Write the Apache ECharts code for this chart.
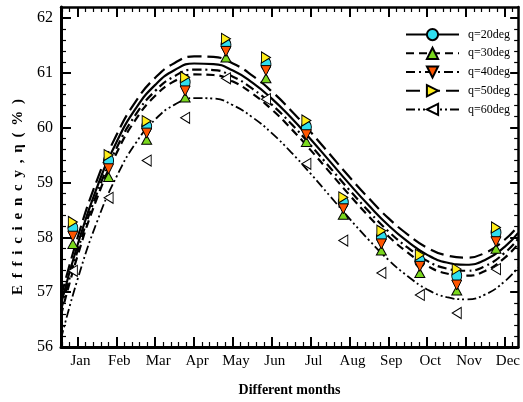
<!DOCTYPE html>
<html>
<head>
<meta charset="utf-8">
<script src="https://cdn.jsdelivr.net/npm/echarts@6/dist/echarts.min.js"></script>
<style>
html, body { margin: 0; padding: 0; background: #fff; }
#chart { width: 523px; height: 402px; }
</style>
</head>
<body>
<div id="chart"></div>
<script>
// months on the x axis (Jan = 1)
const monthNames = ['Jan', 'Feb', 'Mar', 'Apr', 'May', 'Jun', 'Jul', 'Aug', 'Sep', 'Oct', 'Nov', 'Dec'];
const monthTicks = [1, 2, 3, 4, 5, 6, 7, 8, 9, 10, 11, 12];
const yTicks = [56, 57, 58, 59, 60, 61, 62];

// measured points, one group per month
const markerX = [0.88, 1.80, 2.78, 3.77, 4.82, 5.85, 6.89, 7.84, 8.82, 9.81, 10.76, 11.77];
const pts20 = [58.17, 59.40, 60.02, 60.83, 61.51, 61.16, 60.01, 58.64, 58.00, 57.57, 57.30, 58.09];
const pts30 = [57.88, 59.10, 59.78, 60.55, 61.28, 60.90, 59.74, 58.41, 57.76, 57.35, 57.03, 57.79];
const pts40 = [58.02, 59.25, 59.90, 60.67, 61.39, 61.04, 59.87, 58.52, 57.88, 57.47, 57.13, 57.92];
const pts50 = [58.28, 59.50, 60.12, 60.92, 61.62, 61.28, 60.13, 58.73, 58.12, 57.68, 57.42, 58.18];
const pts60 = [57.39, 58.72, 59.40, 60.18, 60.90, 60.52, 59.34, 57.94, 57.35, 56.95, 56.62, 57.42];

// fitted curves
const curveX = [0.575, 1, 1.5, 2, 2.5, 3, 3.5, 4, 4.5, 5, 5.5, 6, 6.5, 7, 7.5, 8, 8.5, 9, 9.5, 10, 10.5, 11, 11.5, 12, 12.34];
const fit20 = [56.78, 57.86, 58.91, 59.73, 60.35, 60.78, 61.05, 61.17, 61.16, 61.04, 60.82, 60.53, 60.18, 59.79, 59.38, 58.97, 58.58, 58.22, 57.92, 57.68, 57.54, 57.50, 57.59, 57.83, 58.08];
const fit30 = [56.58, 57.66, 58.71, 59.53, 60.15, 60.58, 60.85, 60.97, 60.96, 60.84, 60.62, 60.33, 59.98, 59.59, 59.18, 58.77, 58.38, 58.02, 57.72, 57.48, 57.34, 57.30, 57.39, 57.63, 57.88];
const fit40 = [56.67, 57.75, 58.80, 59.62, 60.24, 60.67, 60.94, 61.06, 61.05, 60.93, 60.71, 60.42, 60.07, 59.68, 59.27, 58.86, 58.47, 58.11, 57.81, 57.57, 57.43, 57.39, 57.48, 57.72, 57.97];
const fit50 = [56.91, 57.99, 59.04, 59.86, 60.48, 60.91, 61.18, 61.30, 61.29, 61.17, 60.95, 60.66, 60.31, 59.92, 59.51, 59.10, 58.71, 58.35, 58.05, 57.81, 57.67, 57.63, 57.72, 57.96, 58.21];
const fit60 = [56.15, 57.23, 58.28, 59.10, 59.72, 60.15, 60.42, 60.54, 60.53, 60.41, 60.19, 59.90, 59.55, 59.16, 58.75, 58.34, 57.95, 57.59, 57.29, 57.05, 56.91, 56.87, 56.96, 57.20, 57.45];

const X_MIN = 0.575, X_MAX = 12.34;

// minor tick positions (5 per unit)
const minorX = [];
for (let v = 0.6; v < X_MAX; v += 0.2) {
    if (Math.abs(v - Math.round(v)) > 0.01) minorX.push(+v.toFixed(2));
}
const minorY = [];
for (let v = 56.2; v < 62; v += 0.2) {
    if (Math.abs(v - Math.round(v)) > 0.01) minorY.push(+v.toFixed(2));
}

const serif = 'Liberation Serif, Times New Roman, serif';
// letter-spaced y axis title (space + thin space between letters)
const yTitle = 'Efficiency,η(%)'.split('').join(' \u2009');

const groups = [
    { name: 'q=20deg', fit: fit20, pts: pts20, symbol: 'circle', size: [10, 13], rotate: 0, color: '#2fdff0', dash: 'solid', width: 2.2 },
    { name: 'q=30deg', fit: fit30, pts: pts30, symbol: 'triangle', size: [10, 9], rotate: 0, color: '#7ad81e', dash: [8, 5], width: 2.2 },
    { name: 'q=40deg', fit: fit40, pts: pts40, symbol: 'triangle', size: [10, 10], rotate: 180, color: '#ff5500', dash: [9, 4, 2, 4], width: 2.2 },
    { name: 'q=50deg', fit: fit50, pts: pts50, symbol: 'triangle', size: [11, 9], rotate: -90, color: '#ffee1a', dash: [14, 6], width: 2.2 },
    { name: 'q=60deg', fit: fit60, pts: pts60, symbol: 'triangle', size: [11, 9], rotate: 90, color: '#ffffff', dash: [9, 3, 2, 3, 2, 3], width: 1.8 }
];

function pairs(xs, ys) {
    return xs.map((x, i) => [x, ys[i]]);
}

let series = [];
groups.forEach(g => {
    series.push({
        type: 'line',
        name: g.name,
        smooth: true,
        showSymbol: false,
        symbol: g.symbol,
        symbolSize: g.size,
        symbolRotate: g.rotate,
        itemStyle: { color: g.color, borderColor: '#000', borderWidth: 1 },
        lineStyle: { color: '#000', width: g.width, type: g.dash },
        data: pairs(curveX, g.fit),
        z: 2
    });
});
groups.forEach(g => {
    series.push({
        type: 'scatter',
        name: g.name,
        symbol: g.symbol,
        symbolSize: g.size,
        symbolRotate: g.rotate,
        itemStyle: { color: g.color, borderColor: '#000', borderWidth: 1, opacity: 1 },
        data: pairs(markerX, g.pts),
        z: 3
    });
});

function tickAxis(pos, values, len, withLine) {
    return {
        type: 'value', position: pos,
        min: (pos === 'left' || pos === 'right') ? 56 : X_MIN,
        max: (pos === 'left' || pos === 'right') ? 62.2 : X_MAX,
        axisLine: { show: withLine, onZero: false, lineStyle: { color: '#000', width: 2.5 } },
        axisTick: { show: true, inside: true, length: len, customValues: values, lineStyle: { color: '#000', width: len > 6 ? 2 : 1.2 } },
        axisLabel: { show: false },
        splitLine: { show: false }
    };
}

let chart = echarts.init(document.getElementById('chart'));
chart.setOption({
    animation: false,
    backgroundColor: '#fff',
    grid: { left: 61, right: 2, top: 7, bottom: 54 },
    legend: {
        orient: 'vertical',
        left: 405,
        top: 28,
        padding: 0,
        itemWidth: 53,
        itemHeight: 14,
        itemGap: 5.5,
        textStyle: { fontFamily: serif, fontSize: 12, color: '#000', padding: [0, 0, 0, 4] },
        data: groups.map(g => g.name)
    },
    xAxis: [
        {
            type: 'value', position: 'bottom', min: X_MIN, max: X_MAX,
            axisLine: { show: true, onZero: false, lineStyle: { color: '#000', width: 3 } },
            axisTick: { show: true, inside: true, length: 10, customValues: monthTicks, lineStyle: { color: '#000', width: 2 } },
            axisLabel: {
                customValues: monthTicks,
                formatter: v => monthNames[Math.round(v) - 1],
                color: '#000', fontFamily: serif, fontSize: 15, margin: 7, padding: [0, 0, 0, 6]
            },
            splitLine: { show: false },
            name: 'Different months',
            nameLocation: 'middle',
            nameGap: 36,
            nameTextStyle: { fontFamily: serif, fontSize: 14, fontWeight: 'bold', color: '#000' }
        },
        tickAxis('bottom', minorX, 5, false),
        tickAxis('top', monthTicks, 10, true),
        tickAxis('top', minorX, 5, false)
    ],
    yAxis: [
        {
            type: 'value', position: 'left', min: 56, max: 62.2,
            axisLine: { show: true, onZero: false, lineStyle: { color: '#000', width: 3 } },
            axisTick: { show: true, inside: true, length: 10, customValues: yTicks, lineStyle: { color: '#000', width: 2 } },
            axisLabel: { customValues: yTicks, color: '#000', fontFamily: serif, fontSize: 16, margin: 8 },
            splitLine: { show: false },
            name: yTitle,
            nameLocation: 'middle',
            nameGap: 35,
            nameTextStyle: { fontFamily: serif, fontSize: 15, fontWeight: 'bold', color: '#000', padding: [0, 40, 0, 0] }
        },
        tickAxis('left', minorY, 5, false),
        tickAxis('right', yTicks, 8, true),
        tickAxis('right', minorY, 4, false)
    ],
    series: series
});
</script>
</body>
</html>
